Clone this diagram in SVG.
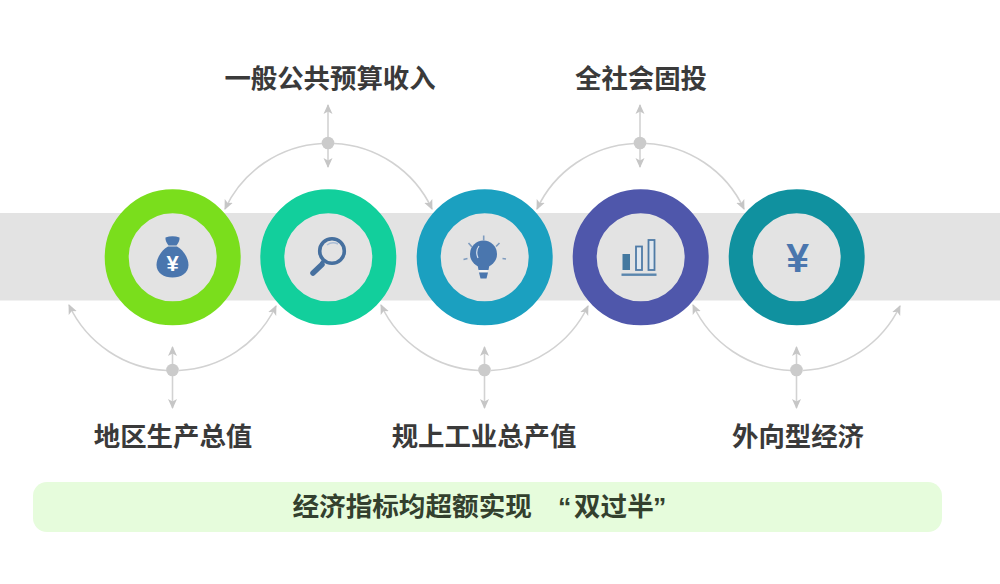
<svg xmlns="http://www.w3.org/2000/svg" width="1000" height="584" viewBox="0 0 1000 584">
<style>
.lbl{font-family:"Noto Sans CJK SC","Liberation Sans",sans-serif;font-weight:700;font-size:26.400px;fill:#3a3a3a;text-anchor:middle}
.conn{fill:none;stroke:#d2d2d2;stroke-width:1.6}
.arr{marker-end:url(#ah)}
.hub{fill:#cbcbcb}
.ring{fill:#e3e3e3;stroke-width:24}
.ic{fill:#4a76ae}
.ics{fill:none;stroke:#4a76ae}
.bar{fill:#e0e8f0;stroke:#4f7ba6;stroke-width:1.800}
</style>
<defs>
<marker id="ah" viewBox="0 0 10 10" refX="9" refY="5" markerUnits="userSpaceOnUse" markerWidth="10" markerHeight="10" orient="auto"><path d="M0 0.5L10 5L0 9.5L2.5 5Z" fill="#c6c6c6"/></marker>
</defs>
<rect width="1000" height="584" fill="#fff"/>
<rect id="band" x="0" y="213" width="1000" height="87.5" fill="#e3e3e3"/>
<g id="connectors">
<path class="conn arr" d="M322 143.500A113.500 113.500 0 0 0 225 209"/>
<path class="conn arr" d="M334 143.500A113.500 113.500 0 0 1 432 209"/>
<path class="conn arr" d="M328 137V105"/><path class="conn arr" d="M328 149V167"/>
<circle class="hub" cx="328" cy="143" r="6.300"/>
<path class="conn arr" d="M634 143.500A113.500 113.500 0 0 0 537 209"/>
<path class="conn arr" d="M646 143.500A113.500 113.500 0 0 1 744 209"/>
<path class="conn arr" d="M640 137V105"/><path class="conn arr" d="M640 149V167"/>
<circle class="hub" cx="640" cy="143" r="6.300"/>
<path class="conn arr" d="M167 370.500A113.500 113.500 0 0 1 69 305"/>
<path class="conn arr" d="M179 370.500A113.500 113.500 0 0 0 276 306"/>
<path class="conn arr" d="M172.500 364V347"/><path class="conn arr" d="M172.500 376V408"/>
<circle class="hub" cx="172.500" cy="370" r="6.300"/>
<path class="conn arr" d="M479 370.500A113.500 113.500 0 0 1 381 305"/>
<path class="conn arr" d="M491 370.500A113.500 113.500 0 0 0 588 306"/>
<path class="conn arr" d="M484.500 364V347"/><path class="conn arr" d="M484.500 376V408"/>
<circle class="hub" cx="484.500" cy="370" r="6.300"/>
<path class="conn arr" d="M791 370.500A113.500 113.500 0 0 1 693 305"/>
<path class="conn arr" d="M803 370.500A113.500 113.500 0 0 0 900 306"/>
<path class="conn arr" d="M796.500 364V347"/><path class="conn arr" d="M796.500 376V408"/>
<circle class="hub" cx="796.500" cy="370" r="6.300"/>
</g>
<g id="node-1">
<circle class="ring" cx="172.700" cy="257.300" r="56" stroke="#7ade1c"/>
<path class="ic" d="M165.500 237.500Q172.500 235 179.500 237.500Q180 241 176.500 245.500H168.500Q165 241 165.500 237.500Z"/>
<path class="ic" d="M168 246.500H177C183.500 250 188.500 258 188.500 265C188.500 273 181 277.500 172.500 277.500C164 277.500 156.500 273 156.500 265C156.500 258 161.500 250 168 246.500Z"/>
<text x="172.700" y="271" font-family="Liberation Sans,sans-serif" font-weight="700" font-size="22" fill="#fff" text-anchor="middle">¥</text>
</g>
<g id="node-2">
<circle class="ring" cx="328.300" cy="257.300" r="56" stroke="#12cf9c"/>
<circle cx="332" cy="251" r="12.300" fill="none" stroke="#46709f" stroke-width="3.600"/>
<path d="M324 260L321 263.500" fill="none" stroke="#46709f" stroke-width="3"/>
<path d="M322 264.500L313 273" fill="none" stroke="#46709f" stroke-width="5.500" stroke-linecap="round"/>
<path d="M327 245Q332 241 338 244" fill="none" stroke="#a9bdd6" stroke-width="1.400"/>
</g>
<g id="node-3">
<circle class="ring" cx="484.700" cy="257.300" r="56" stroke="#1ba0c0"/>
<circle class="ic" cx="483.500" cy="254" r="13.500"/>
<path class="ic" d="M477 262H490L488.500 270H478.500Z"/>
<path d="M479.500 271H487.500" stroke="#f2f2f2" stroke-width="2"/>
<path d="M479 272.500H488L486.500 278.500H480.500Z" fill="#4a76ae"/>
<path d="M479 246Q475 251 478 258" fill="none" stroke="#d8e2ef" stroke-width="1.200"/>
<path fill="none" stroke="#7f9cbf" stroke-width="1.600" d="M483.700 235.500V240.500M468.500 243L472 247M463.500 259.500L467.500 258.500M499.500 243L496 246.500M502.500 258.500L506 259"/>
</g>
<g id="node-4">
<circle class="ring" cx="640.700" cy="257.300" r="56" stroke="#4f57ab"/>
<rect x="622.500" y="254" width="7.500" height="16" fill="#44789f"/>
<rect class="bar" x="636" y="246.500" width="6" height="23.500"/>
<rect class="bar" x="648.500" y="240" width="6" height="30"/>
<rect x="621.500" y="273.500" width="35" height="2.400" fill="#5a86ad"/>
</g>
<g id="node-5">
<circle class="ring" cx="796.700" cy="257.300" r="56" stroke="#10919f"/>
<text x="797.700" y="272" font-family="Liberation Sans,sans-serif" font-weight="700" font-size="41" fill="#4a76ae" text-anchor="middle">¥</text>
</g>
<g id="labels">
<text class="lbl" x="330" y="87.500">一般公共预算收入</text>
<text class="lbl" x="641" y="87.500">全社会固投</text>
<text class="lbl" x="173" y="445.500">地区生产总值</text>
<text class="lbl" x="484" y="445.500">规上工业总产值</text>
<text class="lbl" x="798" y="445.500">外向型经济</text>
</g>
<g id="banner">
<rect x="33" y="482" width="909" height="50" rx="14" fill="#e6fcdc"/>
<text y="516" font-family="Noto Sans CJK SC,Liberation Sans,sans-serif" font-weight="700" font-size="26.600" fill="#33402e"><tspan x="292.500">经济指标均超额实现</tspan><tspan x="558" font-family="Liberation Sans,sans-serif">“</tspan><tspan x="574">双过半</tspan><tspan x="653" font-family="Liberation Sans,sans-serif">”</tspan></text>
</g>
</svg>
